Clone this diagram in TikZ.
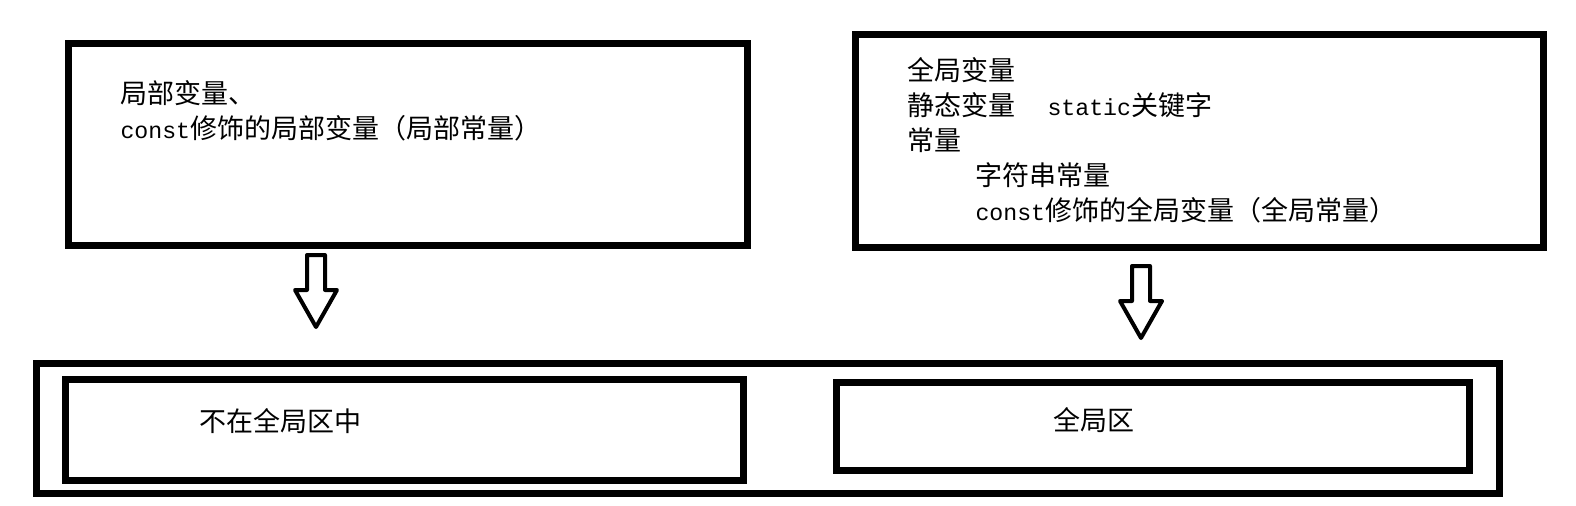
\documentclass[tikz,border=0pt]{standalone}
\usepackage{fontspec}
\setmainfont{Noto Sans CJK SC}
\setmonofont[Scale=0.86]{Liberation Mono}
\usetikzlibrary{positioning}

\tikzset{every picture/.style={line width=0.75pt}}
\tikzset{
	box/.style={draw, line width=5.25, inner sep=0pt},
	memtext/.style={font=\fontsize{20.25}{26.25}\selectfont, inner sep=0pt},
	downarrow/.pic={\draw[line width=3, line join=round] (-9,0) -- (9,0) -- (9,35) -- (21,35) -- (0,72) -- (-21,35) -- (-9,35) -- cycle;}}

\begin{document}
\begin{tikzpicture}[x=0.75pt,y=0.75pt,yscale=-1,xscale=1]
	\useasboundingbox (0,0) rectangle (1576,506);

	%Shape: Rectangle [local variables]
	\node [box, minimum width=509.25pt, minimum height=151.5pt] (localbox) at (408,144.5) {};
	%Shape: Rectangle [global variables]
	\node [box, minimum width=516pt, minimum height=159.75pt] (globalbox) at (1199.5,141) {};

	% Text Node
	\node [memtext, anchor=north west, align=left] (localtxt) at (120,80) {局部变量、\\\texttt{const}修饰的局部变量（局部常量）};
	% Text Node
	\node [memtext, anchor=north west, align=left] (globaltxt) at (907,57) {全局变量\\静态变量\hspace{24pt}\texttt{static}关键字\\常量\\\hspace{51pt}字符串常量\\\hspace{51pt}\texttt{const}修饰的全局变量（全局常量）};

	%Hollow arrows
	\coordinate (arrL) at (316,255);
	\coordinate (arrR) at (1141,266);
	\pic [transform shape] at (arrL) {downarrow};
	\pic [transform shape] at (arrR) {downarrow};

	%Shape: Rectangle [memory]
	\node [box, minimum width=1097.25pt, minimum height=97.5pt] (membox) at (768,428.5) {};
	%Shape: Rectangle [not global area]
	\node [box, minimum width=508.5pt, minimum height=75.75pt] (nonglobal) at (404.5,430) {};
	%Shape: Rectangle [global area]
	\node [box, minimum width=474.75pt, minimum height=66pt] (globalarea) at (1153,426.5) {};

	% Text Node
	\node [memtext] (nonglobaltxt) at (280,421) {不在全局区中};
	% Text Node
	\node [memtext] (globalareatxt) at (1094,420) {全局区};

\end{tikzpicture}
\end{document}
